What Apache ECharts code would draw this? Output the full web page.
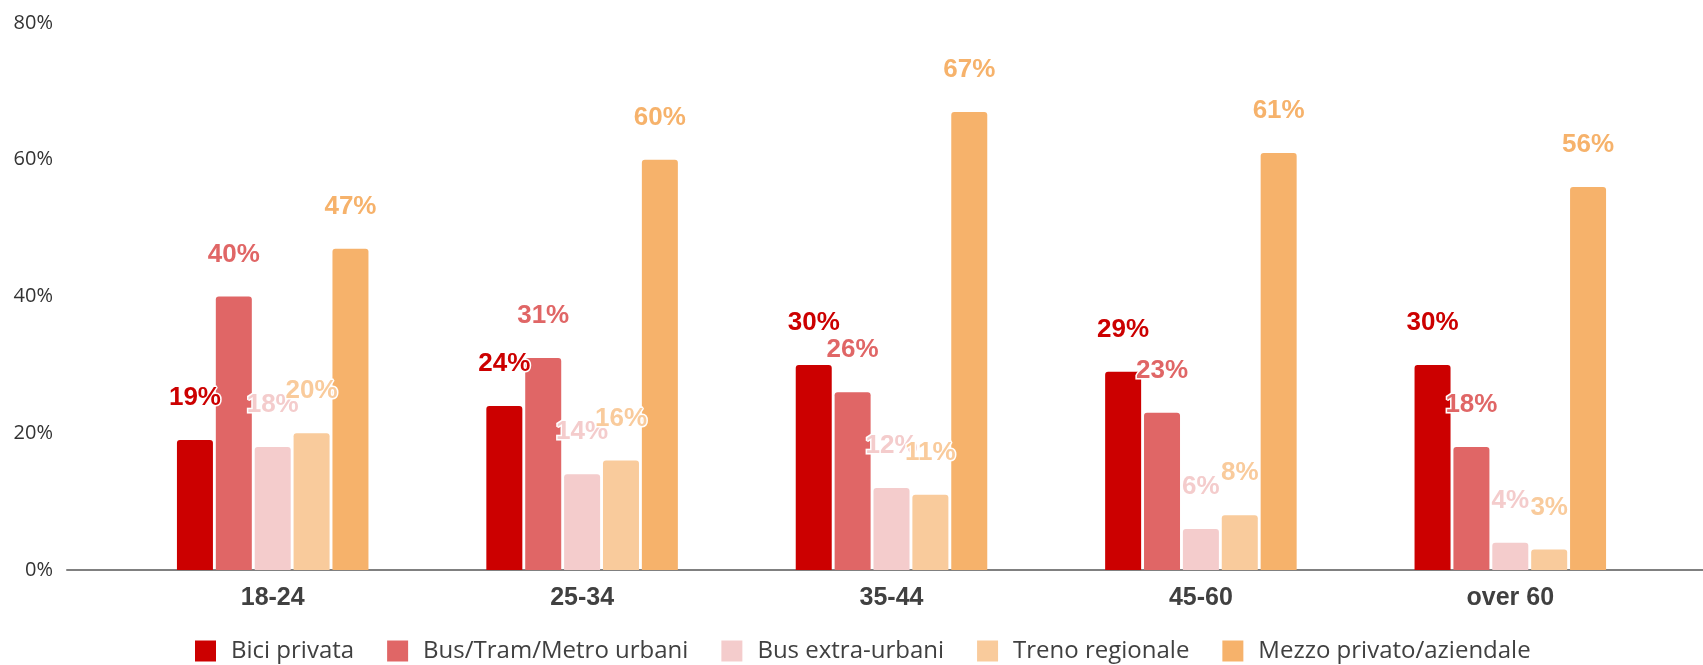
<!DOCTYPE html>
<html>
<head>
    <meta charset="utf-8">
    <title>Mezzo di trasporto per fascia d'età</title>
    <script src="https://cdn.jsdelivr.net/npm/echarts@6/dist/echarts.min.js"></script>
    <style>
      html, body { margin: 0; padding: 0; background: #fff; }
      #main { width: 1703px; height: 665px; }
    </style>
</head>
<body>
    <div id="main"></div>
    <script type="text/javascript">
      // fasce d'età
      var categories = ['18-24', '25-34', '35-44', '45-60', 'over 60'];
      // valori in %
      var biciPrivata = [19, 24, 30, 29, 30];
      var busUrbani = [40, 31, 26, 23, 18];
      var busExtra = [18, 14, 12, 6, 4];
      var trenoRegionale = [20, 16, 11, 8, 3];
      var mezzoPrivato = [47, 60, 67, 61, 56];
      var seriesNames = ['Bici privata', 'Bus/Tram/Metro urbani', 'Bus extra-urbani', 'Treno regionale', 'Mezzo privato/aziendale'];
      var yTicks = [0, 20, 40, 60, 80];

      var colors = ['#CC0000', '#E06666', '#F4CCCC', '#F9CB9C', '#F6B26B'];
      var values = [biciPrivata, busUrbani, busExtra, trenoRegionale, mezzoPrivato];

      var myChart = echarts.init(document.getElementById('main'));

      var series = seriesNames.map(function (name, i) {
        return {
          name: name,
          type: 'bar',
          xAxisIndex: 0,
          yAxisIndex: 0,
          barWidth: 36,
          barGap: '8%',
          itemStyle: { color: colors[i], borderRadius: [3, 3, 0, 0] },
          label: {
            show: true,
            position: 'top',
            distance: 29,
            formatter: '{c}%',
            color: colors[i],
            fontFamily: 'Liberation Sans, Arial, sans-serif',
            fontWeight: 'bold',
            fontSize: 26,
            textBorderColor: '#fff',
            textBorderWidth: 3
          },
          data: values[i]
        };
      });

      var option = {
        animation: false,
        color: colors,
        grid: [
          { left: 118, right: 38, top: 23, bottom: 95 },
          // griglia solo per la linea di base più lunga
          { left: 67, right: 0, top: 23, bottom: 95 }
        ],
        legend: {
          data: seriesNames,
          left: 190,
          top: 634,
          icon: 'rect',
          itemWidth: 21,
          itemHeight: 21,
          itemGap: 33,
          textStyle: {
            fontFamily: 'Open Sans',
            fontSize: 24,
            color: '#404040',
            padding: [0, 0, 0, 10]
          }
        },
        xAxis: [
          {
            type: 'category',
            gridIndex: 0,
            data: categories,
            axisLine: { show: false },
            axisTick: { show: false },
            axisLabel: {
              margin: 16,
              fontFamily: 'Liberation Sans, Arial, sans-serif',
              fontWeight: 'bold',
              fontSize: 25,
              color: '#404040'
            }
          },
          {
            type: 'value',
            gridIndex: 1,
            min: 0,
            max: 1,
            axisLine: { show: true, lineStyle: { color: '#808080', width: 2 } },
            axisTick: { show: false },
            axisLabel: { show: false },
            splitLine: { show: false }
          }
        ],
        yAxis: [
          {
            type: 'value',
            gridIndex: 0,
            min: yTicks[0],
            max: yTicks[yTicks.length - 1],
            interval: 20,
            axisLine: { show: false },
            axisTick: { show: false },
            splitLine: { show: false },
            axisLabel: {
              margin: 65,
              formatter: '{value}%',
              fontFamily: 'Open Sans',
              fontSize: 20,
              color: '#333333'
            }
          },
          {
            type: 'value',
            gridIndex: 1,
            min: 0,
            max: 1,
            show: false
          }
        ],
        series: series
      };

      myChart.setOption(option);
    </script>
</body>
</html>
